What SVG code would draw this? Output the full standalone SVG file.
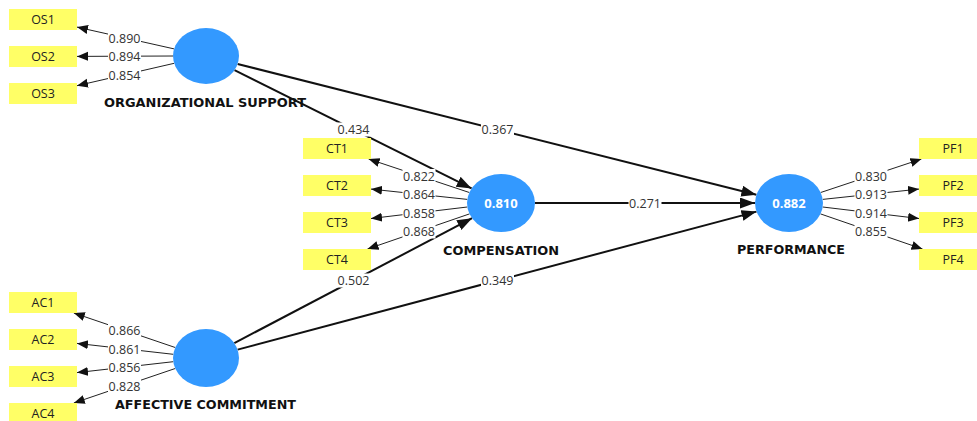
<svg xmlns="http://www.w3.org/2000/svg" width="977" height="421" viewBox="0 0 977 421">
<style>
.lv{fill:#3399ff}
.ind{fill:#ffff66}
.it{font-family:"Open Sans","Liberation Sans",sans-serif;font-size:12.5px;fill:#222;text-anchor:middle}
.lt{font-family:"Open Sans","Liberation Sans",sans-serif;font-size:12.5px;fill:#333;text-anchor:middle}
.nm{font-family:"DejaVu Sans","Liberation Sans",sans-serif;font-size:12.5px;font-weight:700;fill:#111;text-anchor:middle}
.vt{font-family:"Open Sans","Liberation Sans",sans-serif;font-size:13px;font-weight:700;fill:#fff;text-anchor:middle}
.ld{stroke:#222;stroke-width:1;fill:none;marker-end:url(#sa)}
.pt{stroke:#111;stroke-width:2;fill:none;marker-end:url(#ba)}
.bg{fill:#fff}
</style>
<defs>
<marker id="sa" markerUnits="userSpaceOnUse" markerWidth="12" markerHeight="10" refX="11" refY="4.5" orient="auto" viewBox="0 0 12 10"><path d="M0,0 L11,4.5 L0,9 Z" fill="#111"/></marker>
<marker id="ba" markerUnits="userSpaceOnUse" markerWidth="16" markerHeight="12" refX="15" refY="5.5" orient="auto" viewBox="0 0 16 12"><path d="M0,0 L15,5.5 L0,11 Z" fill="#111"/></marker>
</defs>
<g id="connectors">
<line class="ld" x1="174.1" y1="48.9" x2="77" y2="27.1"/>
<line class="ld" x1="173" y1="56" x2="77" y2="56.4"/>
<line class="ld" x1="174.2" y1="63.3" x2="77" y2="85.7"/>
<line class="ld" x1="469.3" y1="192.5" x2="368.6" y2="159"/>
<line class="ld" x1="467.3" y1="199.4" x2="371" y2="189.1"/>
<line class="ld" x1="467.3" y1="207" x2="371" y2="218.5"/>
<line class="ld" x1="469.5" y1="213.9" x2="367.5" y2="249"/>
<line class="ld" x1="820.7" y1="192.5" x2="921.4" y2="159"/>
<line class="ld" x1="822.7" y1="199.4" x2="919" y2="189.1"/>
<line class="ld" x1="822.7" y1="207" x2="919" y2="218.5"/>
<line class="ld" x1="820.5" y1="213.9" x2="922.5" y2="249"/>
<line class="ld" x1="175.2" y1="347.5" x2="73.8" y2="313"/>
<line class="ld" x1="173.3" y1="354.3" x2="77" y2="343.4"/>
<line class="ld" x1="173.3" y1="361.7" x2="77" y2="372.6"/>
<line class="ld" x1="175.2" y1="368.5" x2="73.8" y2="403"/>
<line class="pt" x1="234.5" y1="70.2" x2="471.6" y2="188.4"/>
<line class="pt" x1="237.6" y1="64" x2="756.4" y2="194.8"/>
<line class="pt" x1="535" y1="203" x2="755" y2="203"/>
<line class="pt" x1="234.3" y1="343.1" x2="472.1" y2="218.2"/>
<line class="pt" x1="237.6" y1="349.6" x2="756.5" y2="211.6"/>
<g id="labels">
<rect class="bg" x="108" y="31" width="33" height="14"/><text class="lt" x="124.5" y="42.5">0.890</text>
<rect class="bg" x="108" y="49.5" width="33" height="14"/><text class="lt" x="124.5" y="61">0.894</text>
<rect class="bg" x="108" y="68" width="33" height="14"/><text class="lt" x="124.5" y="79.5">0.854</text>
<rect class="bg" x="402.5" y="169" width="33" height="14"/><text class="lt" x="419" y="180.5">0.822</text>
<rect class="bg" x="402.5" y="187.5" width="33" height="14"/><text class="lt" x="419" y="199">0.864</text>
<rect class="bg" x="402.5" y="206" width="33" height="14"/><text class="lt" x="419" y="217.5">0.858</text>
<rect class="bg" x="402.5" y="224.5" width="33" height="14"/><text class="lt" x="419" y="236">0.868</text>
<rect class="bg" x="854.5" y="169" width="33" height="14"/><text class="lt" x="871" y="180.5">0.830</text>
<rect class="bg" x="854.5" y="187.5" width="33" height="14"/><text class="lt" x="871" y="199">0.913</text>
<rect class="bg" x="854.5" y="206" width="33" height="14"/><text class="lt" x="871" y="217.5">0.914</text>
<rect class="bg" x="854.5" y="224.5" width="33" height="14"/><text class="lt" x="871" y="236">0.855</text>
<rect class="bg" x="108" y="323.5" width="33" height="14"/><text class="lt" x="124.5" y="335">0.866</text>
<rect class="bg" x="108" y="342" width="33" height="14"/><text class="lt" x="124.5" y="353.5">0.861</text>
<rect class="bg" x="108" y="360.5" width="33" height="14"/><text class="lt" x="124.5" y="372">0.856</text>
<rect class="bg" x="108" y="379" width="33" height="14"/><text class="lt" x="124.5" y="390.5">0.828</text>
<rect class="bg" x="337" y="122.5" width="33" height="14"/><text class="lt" x="353.5" y="134">0.434</text>
<rect class="bg" x="481" y="122.5" width="33" height="14"/><text class="lt" x="497.5" y="134">0.367</text>
<rect class="bg" x="628.5" y="196" width="33" height="14"/><text class="lt" x="645" y="207.5">0.271</text>
<rect class="bg" x="337" y="273.5" width="33" height="14"/><text class="lt" x="353.5" y="285">0.502</text>
<rect class="bg" x="481" y="273.5" width="33" height="14"/><text class="lt" x="497.5" y="285">0.349</text>
</g>
</g>
<g id="OS"><ellipse class="lv" cx="206" cy="56" rx="33" ry="28"/><text class="nm" x="205" y="107" textLength="202" lengthAdjust="spacingAndGlyphs">ORGANIZATIONAL SUPPORT</text></g>
<g id="CT"><ellipse class="lv" cx="501" cy="203" rx="34" ry="29"/><text class="vt" x="501" y="207.5">0.810</text><text class="nm" x="501" y="254.5" textLength="116" lengthAdjust="spacingAndGlyphs">COMPENSATION</text></g>
<g id="PF"><ellipse class="lv" cx="789" cy="203" rx="34" ry="29"/><text class="vt" x="789" y="207.5">0.882</text><text class="nm" x="791" y="253.5" textLength="108" lengthAdjust="spacingAndGlyphs">PERFORMANCE</text></g>
<g id="AC"><ellipse class="lv" cx="206" cy="358" rx="33" ry="29"/><text class="nm" x="205.5" y="408.5" textLength="181" lengthAdjust="spacingAndGlyphs">AFFECTIVE COMMITMENT</text></g>
<g id="OS1"><rect class="ind" x="9" y="9" width="68" height="21"/><text class="it" x="43" y="24">OS1</text></g>
<g id="OS2"><rect class="ind" x="9" y="46" width="68" height="21"/><text class="it" x="43" y="61">OS2</text></g>
<g id="OS3"><rect class="ind" x="9" y="83" width="68" height="21"/><text class="it" x="43" y="98">OS3</text></g>
<g id="CT1"><rect class="ind" x="303" y="138" width="68" height="21"/><text class="it" x="337" y="153">CT1</text></g>
<g id="CT2"><rect class="ind" x="303" y="175" width="68" height="21"/><text class="it" x="337" y="190">CT2</text></g>
<g id="CT3"><rect class="ind" x="303" y="212" width="68" height="21"/><text class="it" x="337" y="227">CT3</text></g>
<g id="CT4"><rect class="ind" x="303" y="249" width="68" height="21"/><text class="it" x="337" y="264">CT4</text></g>
<g id="PF1"><rect class="ind" x="919" y="138" width="68" height="21"/><text class="it" x="953" y="153">PF1</text></g>
<g id="PF2"><rect class="ind" x="919" y="175" width="68" height="21"/><text class="it" x="953" y="190">PF2</text></g>
<g id="PF3"><rect class="ind" x="919" y="212" width="68" height="21"/><text class="it" x="953" y="227">PF3</text></g>
<g id="PF4"><rect class="ind" x="919" y="249" width="68" height="21"/><text class="it" x="953" y="264">PF4</text></g>
<g id="AC1"><rect class="ind" x="9" y="292" width="68" height="21"/><text class="it" x="43" y="307">AC1</text></g>
<g id="AC2"><rect class="ind" x="9" y="329" width="68" height="21"/><text class="it" x="43" y="344">AC2</text></g>
<g id="AC3"><rect class="ind" x="9" y="366" width="68" height="21"/><text class="it" x="43" y="381">AC3</text></g>
<g id="AC4"><rect class="ind" x="9" y="403" width="68" height="21"/><text class="it" x="43" y="418">AC4</text></g>
</svg>
